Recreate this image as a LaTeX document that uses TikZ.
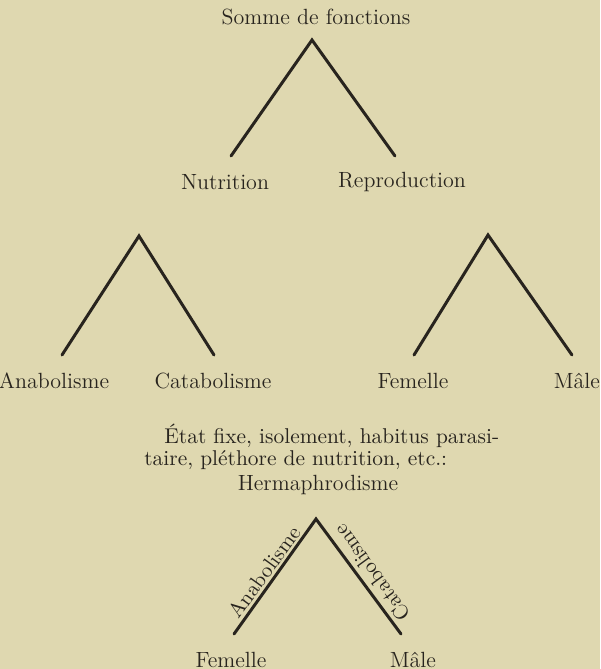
\documentclass[tikz,border=0pt]{standalone}
\usepackage{fontspec}
\definecolor{paper}{RGB}{223,216,176}
\definecolor{ink}{RGB}{40,36,30}
\begin{document}
\begin{tikzpicture}[x=0.5pt,y=-0.5pt,
  lbl/.style={text=ink,font=\fontsize{11}{13}\selectfont,inner sep=1pt},
  plbl/.style={text=ink,font=\fontsize{10.7}{13}\selectfont,inner sep=1pt,anchor=west},
  slbl/.style={text=ink,font=\fontsize{10.5}{12}\selectfont,inner sep=1pt},
  branch/.style={draw=ink,line width=1.5pt,line cap=round,line join=miter}]
\fill[paper] (0,0) rectangle (600,669);
\useasboundingbox (0,0) rectangle (600,669);
% top tree
\node[lbl] (somme) at (316,17) {Somme de fonctions};
\coordinate (a1) at (312,40);
\coordinate (n1) at (231,156);
\coordinate (r1) at (395,156);
\node[lbl] (nut) at (225,182) {Nutrition};
\node[lbl] (rep) at (402,182) {Reproduction};
\draw[branch] (n1) -- (a1) -- (r1);
% second row left
\coordinate (a2) at (139,236);
\coordinate (an2) at (62,355);
\coordinate (ca2) at (214,355);
\node[lbl] (ana) at (54,381) {Anabolisme};
\node[lbl] (cata) at (213,381) {Catabolisme};
\draw[branch] (an2) -- (a2) -- (ca2);
% second row right
\coordinate (a3) at (488,235);
\coordinate (fe3) at (414,355);
\coordinate (ma3) at (572,355);
\node[lbl] (fem) at (413,381) {Femelle};
\node[lbl] (male) at (577,381) {Mâle};
\draw[branch] (fe3) -- (a3) -- (ma3);
% text
\node[plbl] (t1) at (162,436) {État fixe, isolement, habitus parasi-};
\node[plbl] (t2) at (142,460) {taire, pléthore de nutrition, etc.:};
\node[lbl] (herm) at (318,485) {Hermaphrodisme};
% bottom tree
\coordinate (a4) at (316,519);
\coordinate (fe4) at (234,634);
\coordinate (ma4) at (401,634);
\node[lbl] (fem4) at (231,660) {Femelle};
\node[lbl] (male4) at (413,660) {Mâle};
\draw[branch] (fe4) -- (a4) -- (ma4);
\node[slbl,rotate=54] (anab) at (264,572) {Anabolisme};
\node[slbl,rotate=126] (catab) at (372,573) {Catabolisme};
\end{tikzpicture}
\end{document}
